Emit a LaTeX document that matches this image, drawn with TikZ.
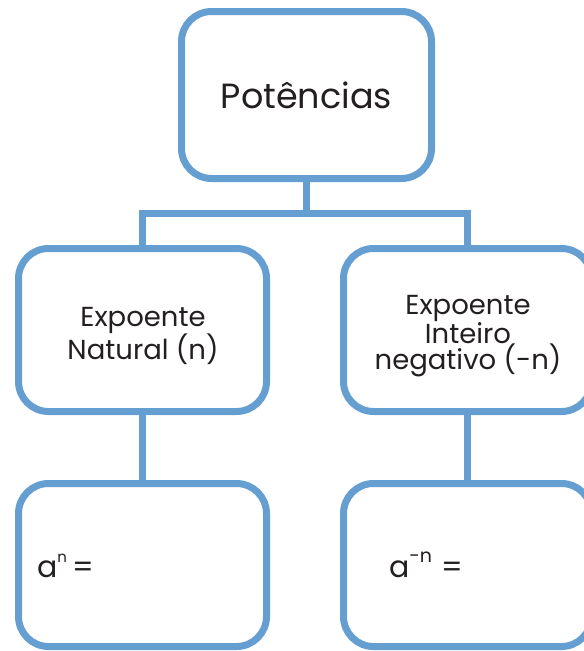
\documentclass[tikz,border=0pt]{standalone}
\usepackage{fontspec}
\setmainfont{Poppins}
\definecolor{boxblue}{RGB}{101,159,209}
\definecolor{txt}{RGB}{35,31,32}
\begin{document}
\begin{tikzpicture}[x=1pt,y=-1pt,
  box/.style={draw=boxblue,line width=7pt,rounded corners=30pt,fill=white,text=txt,
    inner sep=0pt,align=center},
  link/.style={draw=boxblue,line width=7pt},
  lab/.style={text=txt,inner sep=0pt,anchor=base west}]
\useasboundingbox (0,0) rectangle (584,651);
\clip (0,0) rectangle (584,651);
\node[box,minimum width=250pt,minimum height=167pt,font=\fontsize{35}{40}\selectfont] (top) at (306.5,95) {Potências};
\node[box,minimum width=248pt,minimum height=163pt] (left) at (142.5,330) {};
\node[box,minimum width=248pt,minimum height=163pt] (right) at (467.5,330) {};
\node[text=txt,align=center,inner sep=0pt,font=\fontsize{27.5}{27}\selectfont] (lt) at (143,336) {Expoente\\Natural (n)};
\node[text=txt,align=center,inner sep=0pt,font=\fontsize{27.5}{26}\selectfont] (rt) at (468,336) {Expoente\\Inteiro\\negativo (-n)};
\node[box,minimum width=248pt,minimum height=163pt] (bl) at (142.5,565) {};
\node[box,minimum width=248pt,minimum height=163pt] (br) at (467.5,565) {};
\coordinate (j) at (306.5,213);
\draw[link] (top.south) -- (j);
\draw[link] (left.north) |- (j) -| (right.north);
\draw[link] (left.south) -- (bl.north);
\draw[link] (right.south) -- (br.north);
\node[lab,font=\fontsize{30}{32}\selectfont] (f1) at (37,577) {a\raisebox{0.5em}{\fontsize{15}{16}\selectfont n}\,=};
\node[lab,font=\fontsize{30}{32}\selectfont] (f2) at (389,577) {a\raisebox{0.5em}{\fontsize{19}{20}\selectfont -n}\hspace{9pt}=};
\end{tikzpicture}
\end{document}
